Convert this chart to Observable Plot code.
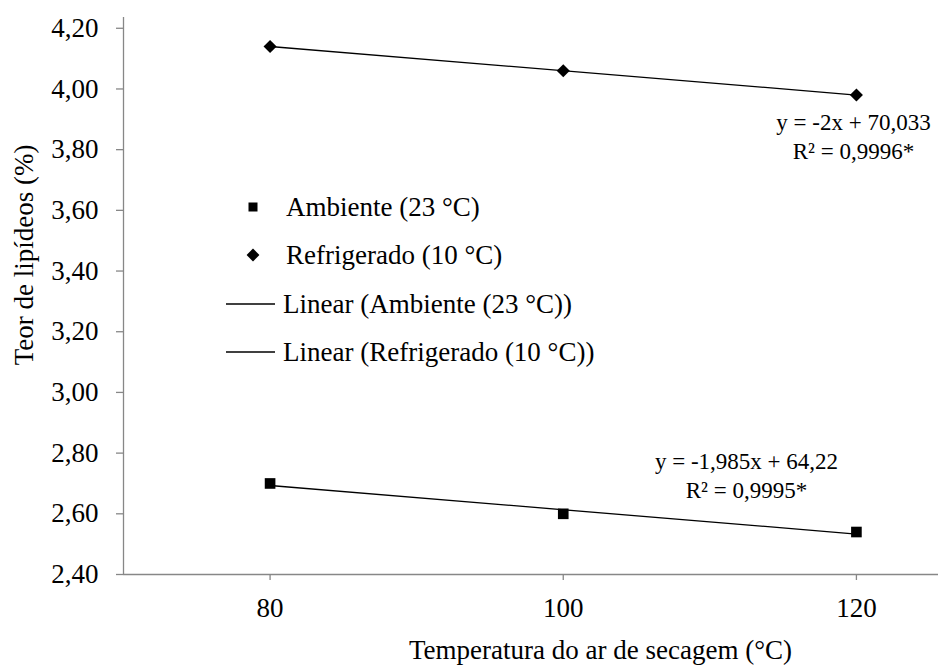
<!DOCTYPE html>
<html>
<head>
<meta charset="utf-8">
<script src="https://cdn.jsdelivr.net/npm/d3@7"></script>
<script src="https://cdn.jsdelivr.net/npm/@observablehq/plot@0.6"></script>
<style>
  html, body { margin: 0; padding: 0; background: #fff; }
  #wrap { position: relative; width: 939px; height: 665px; font-family: 'Liberation Serif', 'Tinos', 'Times New Roman', 'DejaVu Serif', 'Noto Serif', serif; }
  #legend { position: absolute; left: 222px; top: 183px; font-size: 27px; color: #000; }
  .row { display: flex; align-items: center; height: 48.3px; line-height: 48.3px; white-space: nowrap; }
  .row svg { flex: none; display: block; }
</style>
</head>
<body>
<div id="wrap">
  <div id="chart"></div>
  <div id="legend"></div>
</div>
<script>
// ---- data ----
const temperatura = [80, 100, 120];
const ambiente = [2.70, 2.60, 2.54];
const refrigerado = [4.14, 4.06, 3.98];
const seriesNames = ["Ambiente (23 °C)", "Refrigerado (10 °C)"];
const trendNames = ["Linear (Ambiente (23 °C))", "Linear (Refrigerado (10 °C))"];
const yTicks = [2.40, 2.60, 2.80, 3.00, 3.20, 3.40, 3.60, 3.80, 4.00, 4.20];
const xTicks = [80, 100, 120];
const eqRefrigerado = "y = -2x + 70,033\nR² = 0,9996*";
const eqAmbiente = "y = -1,985x + 64,22\nR² = 0,9995*";
const xTitle = "Temperatura do ar de secagem (°C)";
const yTitle = "Teor de lipídeos (%)";

// ---- table ----
const rows = [];
temperatura.forEach((t, i) => {
  rows.push({t, v: ambiente[i], s: seriesNames[0]});
  rows.push({t, v: refrigerado[i], s: seriesNames[1]});
});
const amb = rows.filter(d => d.s === seriesNames[0]);
const ref = rows.filter(d => d.s === seriesNames[1]);

const gray = "#878787";
const font = "'Liberation Serif', 'Tinos', 'Times New Roman', 'DejaVu Serif', 'Noto Serif', serif";
const fmt = d => d.toFixed(2).replace(".", ",");

const chart = Plot.plot({
  width: 939,
  height: 665,
  marginLeft: 123,
  marginRight: 1,
  marginTop: 17,
  marginBottom: 91,
  style: {fontFamily: font, fontSize: "27px", color: "#000", background: "#fff"},
  x: {domain: [70, 125.6]},
  y: {domain: [2.4, 4.2355]},
  marks: [
    Plot.ruleX([70], {stroke: gray, strokeWidth: 1.3}),
    Plot.ruleY([2.4], {stroke: gray, strokeWidth: 1.3}),
    Plot.axisY({ticks: yTicks, tickFormat: fmt, tickSize: 7, tickPadding: 18, label: null,
                stroke: gray, strokeWidth: 1.3, fontSize: 27, fontFamily: font}),
    Plot.axisX({ticks: xTicks, tickFormat: d => String(d), tickSize: 6, tickPadding: 17, label: null,
                stroke: gray, strokeWidth: 1.3, fontSize: 27, fontFamily: font}),
    Plot.linearRegressionY(rows, {x: "t", y: "v", z: "s", stroke: "#000", strokeWidth: 1.3, ci: 0}),
    Plot.dot(amb, {x: "t", y: "v", symbol: "square", r: 6, fill: "#000", stroke: "none"}),
    Plot.dot(ref, {x: "t", y: "v", symbol: "diamond2", r: 5.9, fill: "#000", stroke: "none"}),
    Plot.text([eqRefrigerado], {x: 119.8, y: 3.848, text: d => d, fontSize: 23, fontFamily: font,
                lineAnchor: "middle", lineHeight: 1.25, textAnchor: "middle", fill: "#000"}),
    Plot.text([eqAmbiente], {x: 112.5, y: 2.731, text: d => d, fontSize: 23, fontFamily: font,
                lineAnchor: "middle", lineHeight: 1.25, textAnchor: "middle", fill: "#000"}),
    Plot.text([xTitle], {frameAnchor: "bottom", dx: 69.5, dy: 76, text: d => d, fontSize: 27,
                fontFamily: font, lineAnchor: "middle", fill: "#000"}),
    Plot.text([yTitle], {frameAnchor: "left", y: 3.453, dx: -99, rotate: -90, text: d => d, fontSize: 27,
                fontFamily: font, lineAnchor: "middle", textAnchor: "middle", fill: "#000"})
  ]
});
document.getElementById("chart").appendChild(chart);

// ---- legend ----
const legend = document.getElementById("legend");
const swatches = [
  '<svg width="62" height="20"><rect x="26.5" y="5.5" width="9" height="9" fill="#000"/></svg>',
  '<svg width="62" height="20"><path d="M31,3.6 L37.4,10 L31,16.4 L24.6,10 Z" fill="#000"/></svg>',
  '<svg width="62" height="20"><line x1="4" y1="10" x2="53" y2="10" stroke="#000" stroke-width="1.3"/></svg>',
  '<svg width="62" height="20"><line x1="4" y1="10" x2="53" y2="10" stroke="#000" stroke-width="1.3"/></svg>'
];
const labels = [seriesNames[0], seriesNames[1], trendNames[0], trendNames[1]];
labels.forEach((lab, i) => {
  const row = document.createElement("div");
  row.className = "row";
  row.innerHTML = swatches[i];
  const span = document.createElement("span");
  span.textContent = lab;
  span.style.marginLeft = i < 2 ? "2px" : "-1px";
  row.appendChild(span);
  legend.appendChild(row);
});
</script>
</body>
</html>
